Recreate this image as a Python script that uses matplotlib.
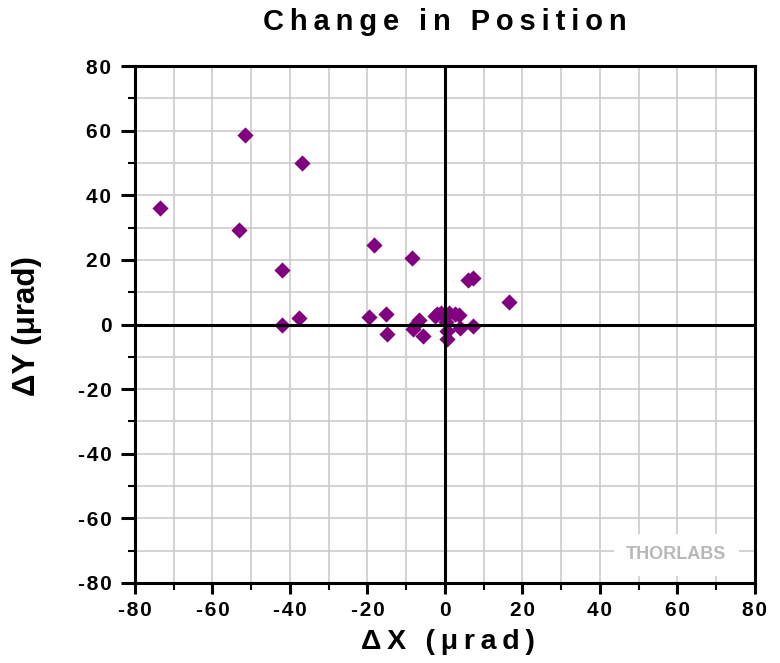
import matplotlib.pyplot as plt
from matplotlib.ticker import MultipleLocator

# data (urad)
dx = [-73.5, -51.5, -53.1, -37.0, -42.0, -42.0, -37.8, -18.4, -8.5, 16.5,
      6.0, 7.2, -19.6, -15.1, -14.9, -6.6, -7.6, -8.2, -5.6, -2.6,
      -2.1, -1.0, 1.0, 2.6, 3.5, 0.3, 0.4, 0.4, 3.9, 7.3]
dy = [36.1, 58.8, 29.2, 50.0, 16.8, -0.2, 1.9, 24.5, 20.7, 7.0,
      13.7, 14.5, 2.3, 3.1, -2.8, 1.5, 0.3, -1.5, -3.6, 2.5,
      3.2, 3.6, 3.6, 3.3, 2.8, 0.9, -2.1, -4.6, -1.0, -0.5]
ticks = [-80, -60, -40, -20, 0, 20, 40, 60, 80]

fam = ['Liberation Sans', 'DejaVu Sans']


def spaced(s, sep='\u2009'):
    return sep.join(s)


fig = plt.figure(figsize=(7.8, 6.63), dpi=100)
ax = fig.add_axes([135/780, 80/663, 620/780, 517/663])

ax.scatter(dx, dy, marker='D', s=68, color='#800080', zorder=3, linewidths=0)
ax.axhline(0, color='black', lw=2.2, zorder=4)
ax.axvline(0, color='black', lw=2.2, zorder=4)

ax.set_xlim(-80, 80)
ax.set_ylim(-80, 80)
ax.set_xticks(ticks)
ax.set_yticks(ticks)
ax.xaxis.set_minor_locator(MultipleLocator(10))
ax.yaxis.set_minor_locator(MultipleLocator(10))
ax.grid(True, which='both', color='#c8c8c8', lw=1.1, zorder=0)
ax.set_axisbelow(True)

ax.set_xticklabels([spaced(str(t), '\u200a') for t in ticks], family=fam,
                   fontweight='bold', fontsize=15)
ax.set_yticklabels([spaced(str(t), '\u200a') for t in ticks], family=fam,
                   fontweight='bold', fontsize=15)
ax.tick_params(which='major', direction='out', length=8, width=2.2, pad=5)
ax.tick_params(axis='y', which='major', length=10, pad=7)
ax.tick_params(which='minor', direction='out', length=5, width=1.5)
for sp in ax.spines.values():
    sp.set_linewidth(2.2)

fig.text(445/780, 1 - 22/663, spaced('Change in Position'), family=fam,
         fontweight='bold', fontsize=21, ha='center', va='center')
fig.text(448/780, 1 - 642/663, spaced('\u0394X (\u03bcrad)'), family=fam,
         fontweight='bold', fontsize=20.5, ha='center', va='center')
fig.text(27/780, 1 - 326/663, '\u0394Y (\u03bcrad)', family=fam,
         fontweight='bold', fontsize=22.5, ha='center', va='center',
         rotation=90)

ax.text(0.873, 0.055, 'THORLABS', transform=ax.transAxes,
        family=fam, fontweight='bold', fontsize=13, color='#b8b8b8',
        ha='center', va='center', zorder=5,
        bbox=dict(facecolor='white', edgecolor='none', pad=9))

fig.savefig('out.png', dpi=100)
